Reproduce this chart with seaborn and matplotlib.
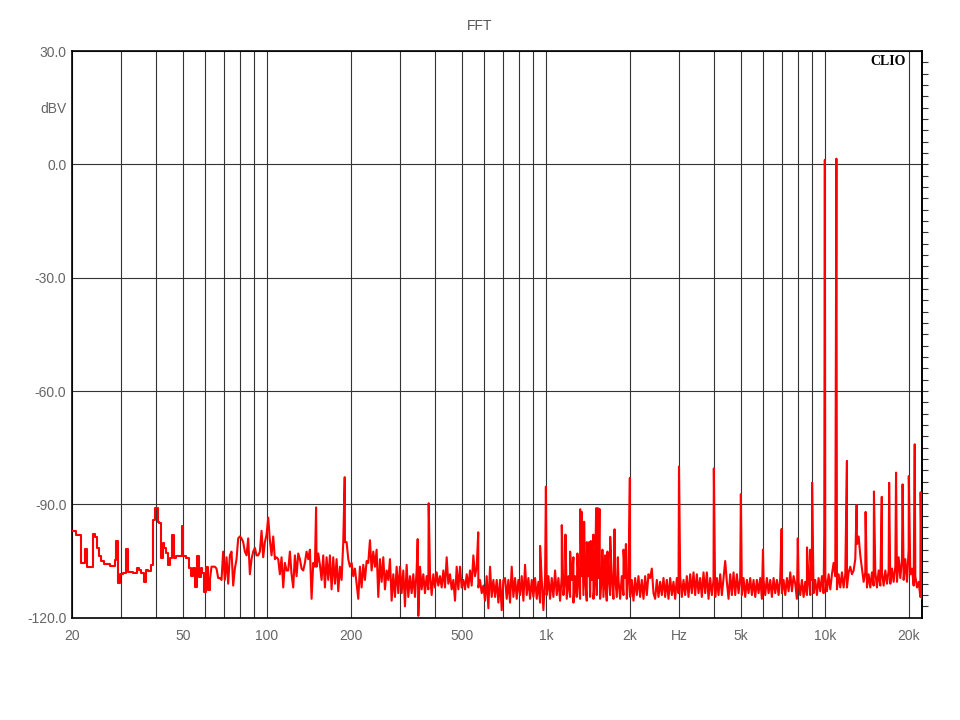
import numpy as np
import pandas as pd
import matplotlib
matplotlib.use("Agg")
import matplotlib.pyplot as plt
import seaborn as sns
from matplotlib.ticker import FixedLocator, FixedFormatter, NullLocator

# ---------------- data ----------------
# low-frequency FFT bins (step starts, Hz) and levels (dBV)
low_hz = [20.0, 20.7, 21.5, 22.3, 22.6, 23.7, 24.1, 24.6, 25.0, 25.5,
          26.1, 27.3, 28.5, 28.8, 29.3, 29.7, 30.5, 31.3, 31.8, 33.0,
          34.1, 34.7, 35.3, 36.2, 36.9, 37.4, 38.5, 38.9, 39.6, 40.8,
          41.1, 41.8, 42.3, 42.9, 43.6, 44.1, 44.8, 45.7, 46.4, 47.3,
          47.9, 49.4, 50.0, 51.4, 52.4, 53.3, 54.4, 55.3, 56.2, 56.9,
          57.8, 58.7, 59.6, 60.4, 61.7, 62.4]
low_db = [-97.1, -98.1, -105.4, -101.8, -106.7, -97.9, -98.6, -101.6, -103.8, -104.9,
          -105.9, -106.3, -104.6, -99.6, -110.9, -108.4, -108.3, -101.9, -107.8, -108.3,
          -106.9, -107.4, -108.1, -110.5, -107.4, -107.6, -106.1, -94.1, -90.9, -94.6,
          -95.0, -104.3, -100.3, -101.6, -103.0, -106.1, -104.3, -98.1, -104.3, -103.7,
          -103.8, -95.7, -103.7, -104.3, -106.9, -109.0, -106.9, -111.8, -103.7, -109.1,
          -106.9, -108.3, -113.1, -106.5, -112.7, -110.0]

# noise floor (alternating upper / lower excursions), read on a log-spaced
# sampling grid from 62.4 Hz to 22.3 kHz
floor_62_200 = [-110, -106.5, -106.5, -106.5, -107, -109.5, -109.5, -110, -102.5, -110,
                -104, -111, -103.5, -102.5, -111.5, -107, -104.5, -99, -98.5, -99,
                -100, -102.5, -103.5, -99, -108.5, -104.5, -102.5, -101.5, -103.5, -103.5,
                -102.5, -97, -104, -100, -98, -93.5, -99.5, -103.5, -98.5, -104.5,
                -104, -104.5, -108.5, -104, -112, -105.5, -107.5, -107.5, -102.5, -108.5,
                -112, -103.5, -109, -103, -104.5, -107, -107.5, -105.5, -102.5, -104.5,
                -102, -115, -105.5, -106.5, -106.5, -103, -106, -110, -103.5, -112,
                -104, -110, -103.5, -112.5, -104, -111, -104.5, -113, -106.5, -110,
                -100, -100, -100, -104.5, -106.5, -105.5, -109, -107, -111, -115]
floor_200_700 = [-106.5, -112, -106, -110, -105, -105.5, -99.5, -107.5, -102.5, -106.5,
                 -102, -114.5, -104.5, -110.5, -104, -112.5, -107.5, -110, -104.5, -115.5,
                 -108.5, -114.5, -106.5, -113.5, -106.5, -113.5, -107.5, -117, -106, -114.5,
                 -109, -113.5, -108.5, -114.5, -107.5, -119.5, -106.5, -112.5, -108.5, -113.5,
                 -109, -112.5, -108.5, -114, -108.5, -112, -108, -111.5, -109, -112,
                 -107.5, -112, -104, -111, -108.5, -112.5, -110, -115.5, -106.5, -112.5,
                 -106.5, -112, -110, -112.5, -108.5, -112, -107.5, -111.5, -103.5, -109,
                 -106.5, -112, -110, -113.5, -111.5, -115.5, -109, -117.5, -106.5, -114.5,
                 -110, -114.5, -110, -116, -110, -118, -110]
floor_700_2k5 = [-109.5, -115, -110, -116, -106.5, -114.5, -109.5, -115, -110, -114,
                 -109, -115.5, -106, -114, -109.5, -115, -110, -114.5, -109.5, -115,
                 -110.5, -116, -110, -118, -109.5, -114, -109, -115, -109.5, -114.5,
                 -107.5, -114, -109.5, -115.5, -109, -114, -109.5, -115, -109, -114.5,
                 -110, -116, -109, -114.5, -109.5, -115, -109, -114, -109.5, -115.5,
                 -109, -114.5, -110, -115, -109, -114, -109.5, -115, -109, -114.5,
                 -110, -115.5, -109, -114, -109.5, -115, -109, -114.5, -110, -115,
                 -109, -114, -109.5, -115, -109, -114.5, -110, -115.5, -109.5, -114,
                 -109, -114.5, -110, -115, -109, -114, -108.5]
floor_2k5_7k = [-109.5, -107, -113.5, -115, -110, -114.5, -110.5, -114, -109.5, -114.5,
                -110, -115, -109.5, -114, -110.5, -115, -109.5, -113.5, -109, -114.5,
                -110, -114, -109, -114.5, -108.5, -113.5, -108, -114, -108.5, -113.5,
                -109.5, -114.5, -108, -113.5, -108, -115, -109.5, -114, -110, -114.5,
                -109.5, -114, -108.5, -114, -109.5, -105, -110.5, -115, -108.5, -114,
                -108, -114, -108.5, -113.5, -109.5, -114, -109.5, -114.5, -110, -113.5,
                -109.5, -114, -110, -114.5, -110, -113.5, -109.5, -115, -110, -114,
                -109.5, -113.5, -110, -114.5, -109.5, -113.5, -110, -114, -109.5, -113.5,
                -110, -114, -109.5, -113, -108, -113, -109]
floor_7k_22k = [-111, -115, -110.5, -114, -110, -114.5, -110.5, -114, -110, -114,
                -110, -113.5, -110, -114, -109.5, -113, -109, -113.5, -109, -113,
                -108.5, -112.5, -108.5, -105.5, -109, -112.5, -108.5, -112, -108, -112,
                -108.5, -112, -108, -106.5, -108.5, -107.5, -104.5, -100.5, -98.5, -103.5,
                -107, -110.5, -108, -112, -108.5, -112, -108, -111.5, -108, -112,
                -107.5, -111.5, -108, -111.5, -107.5, -111, -107.5, -111, -107, -110.5,
                -106.5, -110.5, -104, -109.5, -104.5, -110, -104.5, -110.5, -102, -108.5,
                -107, -111.5, -109, -112, -110.5, -114.5, -115]

# discrete spectral lines (Hz, dBV)
spike_hz = [150, 190, 347, 380, 572, 953, 1000, 1140, 1175, 1221,
            1255, 1297, 1327, 1345, 1371, 1402, 1429, 1449, 1480, 1514,
            1535, 1556, 1594, 1630, 1662, 1700, 1762, 1811, 1898, 1936,
            2000, 3000, 4000, 5000, 6000, 7000, 8000, 8630, 8870, 9000,
            9950, 10000, 11000, 12000, 13000, 14000, 15000, 16000, 17000, 18000,
            19000, 20000, 21000, 22050]
spike_db = [-90.8, -82.8, -99.2, -89.7, -97.4, -101.0, -85.3, -95.5, -98.0, -102.5,
            -104.0, -103.0, -91.3, -92.0, -94.6, -100.0, -100.0, -99.7, -98.0, -91.0,
            -91.0, -91.2, -102.0, -103.5, -102.5, -98.6, -96.6, -104.0, -102.0, -100.5,
            -83.0, -80.0, -80.5, -87.3, -102.0, -96.5, -99.0, -101.4, -102.0, -84.3,
            -97.7, 1.2, 1.5, -78.5, -90.2, -92.0, -86.6, -88.0, -84.3, -81.6,
            -84.7, -82.5, -74.1, -86.8]

grid_hz = [20, 30, 40, 50, 60, 70, 80, 90, 100, 200, 300, 400, 500, 600, 700, 800, 900,
           1000, 2000, 3000, 4000, 5000, 6000, 7000, 8000, 9000, 10000, 20000]
x_labels = {20: "20", 50: "50", 100: "100", 200: "200", 500: "500", 1000: "1k",
            2000: "2k", 3000: "Hz", 5000: "5k", 10000: "10k", 20000: "20k"}
y_major = [-120, -90, -60, -30, 0, 30]

# ---------------- build tables ----------------
floor_db = floor_62_200 + floor_200_700 + floor_700_2k5 + floor_2k5_7k + floor_7k_22k
floor_hz = np.geomspace(62.4, 22300, len(floor_db))
df_low = pd.DataFrame({"hz": low_hz, "db": low_db})
df_hi = pd.DataFrame({
    "hz": np.concatenate([floor_hz, spike_hz]),
    "db": np.concatenate([floor_db, spike_db]),
})

# ---------------- plot ----------------
sns.set_theme(style="white")
plt.rcParams["font.family"] = ["Liberation Sans", "DejaVu Sans"]

fig = plt.figure(figsize=(9.6, 7.2), dpi=100)
ax = fig.add_axes([72 / 960, 1 - 617.7 / 720, 850 / 960, 566.7 / 720])

sns.lineplot(data=df_low, x="hz", y="db", ax=ax, color="#ff0000", lw=1.5,
             estimator=None, sort=True, errorbar=None, drawstyle="steps-post", zorder=3)
sns.lineplot(data=df_hi, x="hz", y="db", ax=ax, color="#ff0000", lw=1.5,
             estimator=None, sort=True, errorbar=None, zorder=3)

ax.set_xscale("log")
ax.set_xlim(20, 22300)
ax.set_ylim(-120, 30)
ax.set_xlabel("")
ax.set_ylabel("")

ax.xaxis.set_major_locator(FixedLocator(grid_hz))
ax.xaxis.set_major_formatter(FixedFormatter([x_labels.get(h, "") for h in grid_hz]))
ax.xaxis.set_minor_locator(NullLocator())
ax.tick_params(axis="x", which="major", length=0, pad=8, labelsize=10, labelcolor="#666666")

ax.set_yticks(y_major)
ax.set_yticklabels([f"{v:.1f}" for v in y_major])
y_minor = [v for v in range(-117, 30, 3) if v % 30 != 0]
ax.yaxis.set_minor_locator(FixedLocator(y_minor))
ax.yaxis.set_minor_formatter(FixedFormatter(["dBV" if v == 15 else "" for v in y_minor]))
ax.tick_params(axis="y", which="major", length=0, pad=4, labelsize=10, labelcolor="#666666")
ax.tick_params(axis="y", which="minor", direction="in", length=4, width=0.8, color="#333333",
               pad=4, labelsize=10, labelcolor="#666666")

ax.grid(True, which="major", axis="both", color="#333333", lw=0.8)
ax.set_axisbelow(True)
for s in ax.spines.values():
    s.set_color("black")
    s.set_linewidth(1.2)
    s.set_visible(True)

sec = ax.secondary_yaxis("right")
sec.set_yticks([v for v in range(-117, 30, 3)])
sec.tick_params(axis="y", direction="out", length=4, width=0.8, color="#333333", labelright=False)
sec.spines["right"].set_color("black")
sec.spines["right"].set_linewidth(1.2)

ax.text(0.981, 0.993, "CLIO", transform=ax.transAxes, ha="right", va="top",
        fontsize=10, fontweight="bold", family=["Liberation Serif", "DejaVu Serif"], color="black")
fig.text(0.5, 1 - 26 / 720, "FFT", ha="center", va="center", fontsize=10, color="#555555")

fig.savefig("out.png", dpi=100)
